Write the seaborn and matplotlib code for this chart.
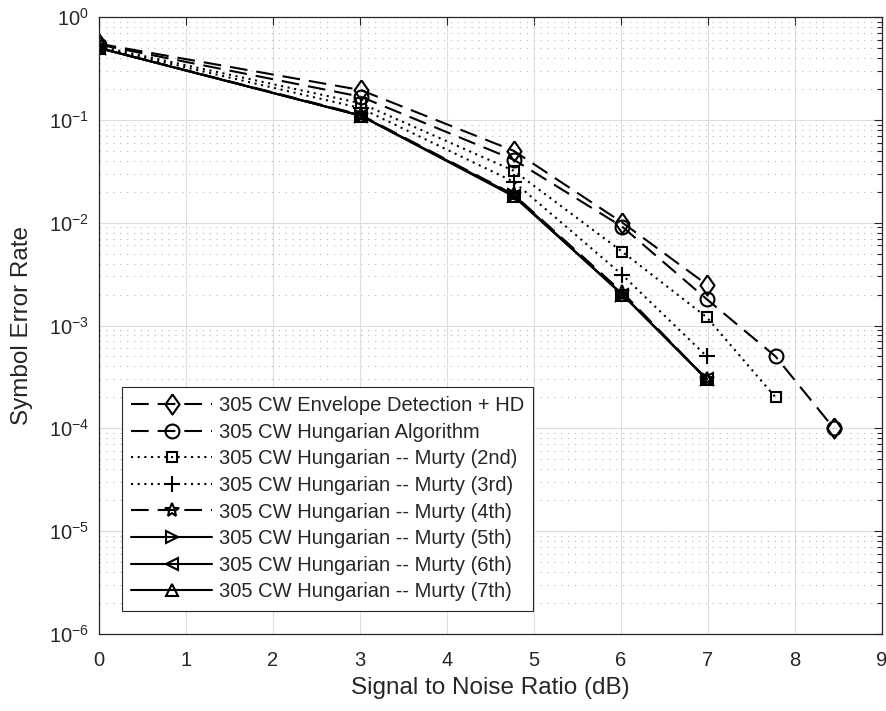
import matplotlib
matplotlib.use("Agg")
import matplotlib.pyplot as plt
import seaborn as sns
import numpy as np
from matplotlib.ticker import LogLocator, FixedLocator, NullFormatter, NullLocator

# SNR points (dB) and symbol error rates
snr_db = [0, 3.01, 4.77, 6.02, 6.99, 7.78, 8.45]

ser_envelope = [0.55, 0.195, 0.050, 0.0100, 0.0025, np.nan, 1e-4]
ser_hungarian = [0.54, 0.168, 0.041, 0.0091, 0.0018, 0.0005, 1e-4]
ser_murty2 = [0.52, 0.145, 0.032, 0.0052, 0.0012, 0.0002, np.nan]
ser_murty3 = [0.51, 0.130, 0.025, 0.0031, 0.0005, np.nan, np.nan]
ser_murty4 = [0.50, 0.112, 0.0188, 0.0021, 0.0003, np.nan, np.nan]
ser_murty5 = [0.50, 0.110, 0.0185, 0.0020, 0.0003, np.nan, np.nan]
ser_murty6 = [0.50, 0.110, 0.0183, 0.0020, 0.0003, np.nan, np.nan]
ser_murty7 = [0.50, 0.110, 0.0180, 0.0020, 0.0003, np.nan, np.nan]

labels = [
    "305 CW Envelope Detection + HD",
    "305 CW Hungarian Algorithm",
    "305 CW Hungarian -- Murty (2nd)",
    "305 CW Hungarian -- Murty (3rd)",
    "305 CW Hungarian -- Murty (4th)",
    "305 CW Hungarian -- Murty (5th)",
    "305 CW Hungarian -- Murty (6th)",
    "305 CW Hungarian -- Murty (7th)",
]

x_ticks = [0, 1, 2, 3, 4, 5, 6, 7, 8, 9]

sns.set_style("white")
plt.rcParams["font.family"] = ["Liberation Sans", "DejaVu Sans"]
plt.rcParams["axes.unicode_minus"] = False
plt.rcParams["mathtext.default"] = "regular"

ink = "#262626"
dashed = (0, (8.5, 4.3))
dotted = (0, (1, 2.2))
diamond = [(0, 1), (0.7, 0), (0, -1), (-0.7, 0), (0, 1)]

series = [
    (labels[0], ser_envelope, diamond, 14.5, dashed),
    (labels[1], ser_hungarian, "o", 10, dashed),
    (labels[2], ser_murty2, "s", 7.5, dotted),
    (labels[3], ser_murty3, "+", 12, dotted),
    (labels[4], ser_murty4, "*", 10, dashed),
    (labels[5], ser_murty5, ">", 9, "-"),
    (labels[6], ser_murty6, "<", 9, "-"),
    (labels[7], ser_murty7, "^", 9, "-"),
]


def runs(xs, ys):
    # split a series into pieces where values exist (gaps stay gaps)
    out, cx, cy = [], [], []
    for a, b in zip(xs, ys):
        if np.isnan(b):
            if cx:
                out.append((cx, cy))
            cx, cy = [], []
        else:
            cx.append(a)
            cy.append(b)
    if cx:
        out.append((cx, cy))
    return out


fig = plt.figure(figsize=(8.87, 7.11), dpi=100)
ax = fig.add_axes([98.7 / 887, 1 - 634 / 711, 783 / 887, 617 / 711])
ax.set_yscale("log")

for name, vals, mk, ms, ls in series:
    for i, (xs, ys) in enumerate(runs(snr_db, vals)):
        sns.lineplot(x=xs, y=ys, ax=ax, color="black", linestyle=ls, linewidth=1.5,
                     marker=mk, markersize=ms, markerfacecolor="none",
                     markeredgecolor="black", markeredgewidth=1.5,
                     label=name if i == 0 else None, sort=False, estimator=None)

ax.set_xlim(0, 9)
ax.set_ylim(1e-6, 1)
ax.xaxis.set_major_locator(FixedLocator(x_ticks))
ax.xaxis.set_minor_locator(NullLocator())
ax.yaxis.set_major_locator(LogLocator(base=10, numticks=10))
ax.yaxis.set_minor_locator(LogLocator(base=10, subs=np.arange(2, 10), numticks=20))
ax.yaxis.set_minor_formatter(NullFormatter())

ax.grid(which="major", color="#dedede", linewidth=0.8, linestyle="-")
ax.grid(which="minor", axis="y", color="#c2c2c2", linewidth=0.8, linestyle=(0, (1.2, 5)))
ax.set_axisbelow(True)

ax.tick_params(which="both", direction="in", top=True, right=True,
               color=ink, labelcolor=ink, width=0.8)
ax.tick_params(which="major", length=5.5, labelsize=14.5)
ax.tick_params(axis="x", which="major", pad=12)
ax.tick_params(axis="y", which="major", pad=7)
ax.tick_params(which="minor", length=3.5)
for sp in ax.spines.values():
    sp.set_color(ink)
    sp.set_linewidth(0.9)

ax.set_xlabel("Signal to Noise Ratio (dB)", fontsize=17.5, color=ink)
ax.set_ylabel("Symbol Error Rate", fontsize=17.5, color=ink)
ax.xaxis.set_label_coords(0.5, -0.07)
ax.yaxis.set_label_coords(-0.084, 0.5)

leg = ax.legend(loc="lower left", bbox_to_anchor=(0.03, 0.038), borderaxespad=0,
                frameon=True, fancybox=False, framealpha=1, edgecolor=ink,
                fontsize=14.5, handlelength=4.0, handletextpad=0.35,
                labelspacing=0.38, borderpad=0.45)
leg.get_frame().set_linewidth(0.8)

fig.savefig("out.png", dpi=100)
plt.close(fig)
